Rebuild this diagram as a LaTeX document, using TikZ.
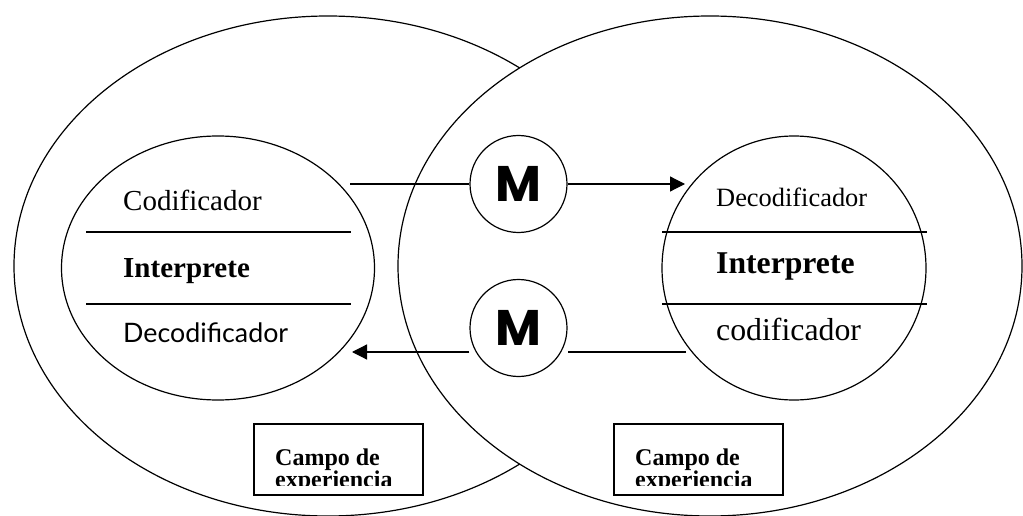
\documentclass[tikz,border=0pt]{standalone}
\usepackage{fontspec}
\setmainfont{Liberation Serif}
\newfontfamily\gillfont{Lato}
\newfontfamily\mfont{Poppins}
\usetikzlibrary{shapes.geometric,arrows.meta}
\begin{document}
\begin{tikzpicture}[x=1pt,y=-1pt,
  outline/.style={draw,line width=1.2pt},
  field/.style={outline,ellipse,inner sep=0pt},
  msg/.style={outline,circle,inner sep=0pt,minimum size=97pt,font=\mfont\bfseries\fontsize{50}{50}\selectfont},
  divider/.style={line width=1.5pt},
  conn/.style={line width=1.2pt},
  arr/.style={conn,-{Triangle[length=15pt,width=15pt]}},
  lbl/.style={anchor=base west,inner sep=0pt},
  fieldbox/.style={draw,line width=1.4pt,inner sep=0pt}
]
\useasboundingbox (0,0) rectangle (1023,516);
\fill[white] (0,0) rectangle (1023,516);
% big fields
\node[field,minimum width=628pt,minimum height=500pt] (bigL) at (328,266) {};
\node[field,fill=white,minimum width=624pt,minimum height=500pt] (bigR) at (710,266) {};
% inner ellipses
\node[field,minimum width=313pt,minimum height=264pt] (inL) at (218,268) {};
\node[field,minimum width=264pt,minimum height=264pt] (inR) at (794,268) {};
% dividers
\coordinate (l1a) at (86,232); \coordinate (l1b) at (351,232);
\coordinate (l2a) at (86,304); \coordinate (l2b) at (351,304);
\coordinate (r1a) at (662,232); \coordinate (r1b) at (927,232);
\coordinate (r2a) at (662,304); \coordinate (r2b) at (927,304);
\draw[divider] (l1a) -- (l1b);
\draw[divider] (l2a) -- (l2b);
\draw[divider] (r1a) -- (r1b);
\draw[divider] (r2a) -- (r2b);
% labels
\node[lbl,font=\fontsize{29}{29}\selectfont] (codL) at (123,210) {Codificador};
\node[lbl,font=\bfseries\fontsize{29}{29}\selectfont] (intL) at (123,277) {Interprete};
\node[lbl,font=\gillfont\fontsize{26.8}{26.8}\selectfont] (decL) at (123,342) {Decodificador};
\node[lbl,font=\fontsize{26.4}{26.4}\selectfont] (decR) at (716,207) {Decodificador};
\node[lbl,font=\bfseries\fontsize{31.7}{31.7}\selectfont] (intR) at (716,273) {Interprete};
\node[lbl,font=\fontsize{31.8}{31.8}\selectfont] (codR) at (716,340) {codificador};
% messages
\node[msg] (mtop) at (518.5,184) {M};
\node[msg] (mbot) at (518.5,328) {M};
% connectors
\coordinate (t1) at (350,184);
\coordinate (t2) at (685,184);
\coordinate (b1) at (686,352);
\coordinate (b2) at (352,352);
\draw[conn] (t1) -- (mtop.west);
\draw[arr] (mtop.east) -- (t2);
\draw[conn] (b1) -- (b1 -| mbot.east);
\draw[arr] (b1 -| mbot.west) -- (b2);
% campo de experiencia boxes
\node[fieldbox,minimum width=169pt,minimum height=71pt] (boxL) at (338.5,459.5) {};
\node[fieldbox,minimum width=169pt,minimum height=71pt] (boxR) at (698.5,459.5) {};
\begin{scope}
\clip (boxL.north west) rectangle (423,485);
\node[lbl,font=\bfseries\fontsize{24}{24}\selectfont] (cL1) at (275,465) {Campo de};
\node[lbl,font=\bfseries\fontsize{24}{24}\selectfont] (cL2) at (275,487) {experiencia};
\end{scope}
\begin{scope}
\clip (boxR.north west) rectangle (783,485);
\node[lbl,font=\bfseries\fontsize{24}{24}\selectfont] (cR1) at (635,465) {Campo de};
\node[lbl,font=\bfseries\fontsize{24}{24}\selectfont] (cR2) at (635,487) {experiencia};
\end{scope}
\end{tikzpicture}
\end{document}
